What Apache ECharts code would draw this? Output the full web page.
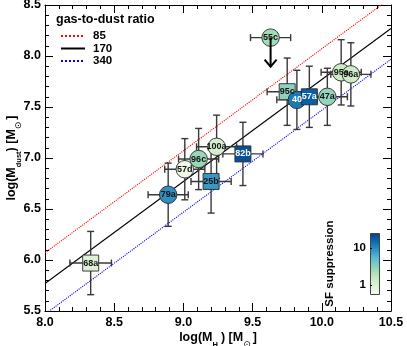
<!DOCTYPE html>
<html><head><meta charset="utf-8">
<script src="https://cdn.jsdelivr.net/npm/echarts@6/dist/echarts.min.js"></script>
<style>html,body{margin:0;padding:0;background:#fff}#c{width:407px;height:346px}</style>
</head><body><div id="c"></div>
<script>
// ---- data ----
const names    = ['68a','79a','57d','96c','25b','100a','82b','55c','95c','40','57a','47a','95a','96a'];
const shapes   = ['s','c','c','c','s','c','s','c','s','c','s','c','c','c'];
const logMH2   = [8.33, 8.89, 9.01, 9.11, 9.20, 9.24, 9.43, 9.63, 9.75, 9.82, 9.91, 10.04, 10.14, 10.21];
const logMdust = [5.97, 6.64, 6.89, 6.99, 6.77, 7.11, 7.04, 8.18, 7.65, 7.57, 7.60, 7.60, 7.84, 7.82];
const errX     = [0.15, 0.145, 0.145, 0.145, 0.145, 0.145, 0.145, 0.145, 0.145, 0.145, 0.145, 0.145, 0.145, 0.145];
const errY     = [0.31, 0.31, 0.30, 0.30, 0.31, 0.31, 0.31, 0, 0.33, 0.29, 0.30, 0.28, 0.32, 0.31];
const upperLim = [false,false,false,false,false,false,false,true,false,false,false,false,false,false];
const sfSupp   = [1.0, 9.5, 0.7, 2.8, 8.5, 1.2, 21, 2.5, 3.2, 12.5, 17.5, 3.0, 1.45, 1.45];
const ratios   = [85, 170, 340];
const ratioLabels = ['85','170','340'];
const xTicks = [8.0, 8.5, 9.0, 9.5, 10.0, 10.5];
const yTicks = [5.5, 6.0, 6.5, 7.0, 7.5, 8.0, 8.5];
const sfRange = [0.57, 25.6];
const cbTicks = [1, 10];

const CMAP = ['#f7fcf0','#e0f3db','#ccebc5','#a8ddb5','#7bccc4','#4eb3d3','#2b8cbe','#0868ac','#084081'];
const FONT = '"Liberation Sans", Arial, Helvetica, sans-serif';
const SYM = '"DejaVu Sans", sans-serif';

const chart = echarts.init(document.getElementById('c'), null, {renderer:'canvas'});

const lineColors = ['#ff0000', '#000000', '#0000ff'];
const lineTypes = ['dotted', 'solid', 'dotted'];
const lineSeries = ratios.map((r, i) => ({
  type: 'line', name: ratioLabels[i], xAxisIndex: 0, yAxisIndex: 0,
  data: [[xTicks[0], xTicks[0] - Math.log10(r)], [xTicks[xTicks.length-1], xTicks[xTicks.length-1] - Math.log10(r)]],
  symbol: 'none', showSymbol: false, clip: true, silent: true, z: 1,
  lineStyle: {color: lineColors[i], type: lineTypes[i], width: 1.1},
  itemStyle: {color: lineColors[i]}
}));

const errData = names.map((n, i) => [logMH2[i], logMdust[i], errX[i], errY[i]]);
const ptData = names.map((n, i) => ({
  name: n,
  value: [logMH2[i], logMdust[i], Math.log10(sfSupp[i])],
  symbol: shapes[i] === 's' ? 'rect' : 'circle',
  symbolSize: shapes[i] === 's' ? 16 : 17.5,
  label: {color: sfSupp[i] >= 11.5 ? '#ffffff' : '#111111'}
}));
const limData = names.map((n, i) => [logMH2[i], logMdust[i]]).filter((d, i) => upperLim[i]);

const CAP = 3.5;
function errRender(params, api) {
  const x = api.value(0), y = api.value(1), ex = api.value(2), ey = api.value(3);
  const c = api.coord([x, y]);
  const xl = api.coord([x - ex, y])[0], xr = api.coord([x + ex, y])[0];
  const st = {stroke: '#383838', lineWidth: 1.4};
  const ch = [
    {type:'line', shape:{x1:xl, y1:c[1], x2:xr, y2:c[1]}, style:st},
    {type:'line', shape:{x1:xl, y1:c[1]-CAP, x2:xl, y2:c[1]+CAP}, style:st},
    {type:'line', shape:{x1:xr, y1:c[1]-CAP, x2:xr, y2:c[1]+CAP}, style:st}
  ];
  if (ey > 0) {
    const yt = api.coord([x, y + ey])[1], yb = api.coord([x, y - ey])[1];
    ch.push({type:'line', shape:{x1:c[0], y1:yt, x2:c[0], y2:yb}, style:st});
    ch.push({type:'line', shape:{x1:c[0]-CAP, y1:yt, x2:c[0]+CAP, y2:yt}, style:st});
    ch.push({type:'line', shape:{x1:c[0]-CAP, y1:yb, x2:c[0]+CAP, y2:yb}, style:st});
  }
  return {type:'group', children: ch};
}
function limRender(params, api) {
  const c = api.coord([api.value(0), api.value(1)]);
  const tip = c[1] + 29;
  const st = {stroke:'#000', lineWidth: 2, fill: null};
  return {type:'group', children:[
    {type:'line', shape:{x1:c[0], y1:c[1], x2:c[0], y2:tip}, style:st},
    {type:'polyline', shape:{points:[[c[0]-6, tip-7],[c[0], tip],[c[0]+6, tip-7]]}, style:st}
  ]};
}

const axisCommon = {
  axisLine: {show: true, onZero: false, lineStyle: {color: '#000', width: 1}},
  axisTick: {show: true, inside: true, length: 8, lineStyle: {color: '#000', width: 1}},
  minorTick: {show: true, splitNumber: 5, length: 4, lineStyle: {color: '#000', width: 1}},
  splitLine: {show: false}
};

const grad = new echarts.graphic.LinearGradient(0, 1, 0, 0,
  CMAP.map((c, i) => ({offset: i / (CMAP.length - 1), color: c})));

const richName = {
  a: {fontFamily: FONT, fontWeight: 'bold', fontSize: 12.5, color: '#000', lineHeight: 16},
  s: {fontFamily: FONT, fontWeight: 'bold', fontSize: 7.5, color: '#000', lineHeight: 16, verticalAlign: 'bottom', padding:[0,0,-3,0]},
  t: {fontFamily: FONT, fontWeight: 'bold', fontSize: 5.5, color: '#000', lineHeight: 16, verticalAlign: 'bottom', padding:[0,0,-5,0]},
  o: {fontFamily: SYM, fontSize: 9, color: '#000', lineHeight: 16, verticalAlign: 'bottom', padding:[0,2,-3,0]}
};

const option = {
  animation: false,
  backgroundColor: '#fff',
  title: {text: 'gas-to-dust ratio', left: 51, top: 8,
    textStyle: {fontFamily: FONT, fontSize: 12.5, fontWeight: 'bold', color: '#000'}},
  legend: {data: ratioLabels, orient: 'vertical', left: 55, top: 25, itemWidth: 24, itemHeight: 10,
    itemGap: 0.5, itemStyle: {opacity: 0},
    textStyle: {fontFamily: FONT, fontSize: 11.5, fontWeight: 'bold', color: '#000', lineHeight: 10, padding: [0,0,0,3]},
    selectedMode: false},
  grid: [
    {left: 45, right: 16, top: 5, bottom: 35, show: false, containLabel: false, outerBoundsMode: 'none'},
    {left: 370, top: 233, width: 9, height: 61, show: false, containLabel: false, outerBoundsMode: 'none'}
  ],
  xAxis: [
    Object.assign({type:'value', gridIndex:0, min: xTicks[0], max: xTicks[xTicks.length-1], interval: 0.5,
      axisLabel: {fontFamily: FONT, fontWeight: 'bold', fontSize: 12.5, color: '#000', margin: 5,
        formatter: v => v.toFixed(1)},
      name: '{a|log(M}{s|H}{t|2}{a|) [M}{o|⊙}{a|]}', nameLocation: 'middle', nameGap: 19, nameMoveOverlap: false,
      nameTextStyle: {rich: richName}
    }, axisCommon),
    Object.assign({type:'value', gridIndex:0, position:'top', min: xTicks[0], max: xTicks[xTicks.length-1], interval: 0.5,
      axisLabel: {show: false}}, axisCommon),
    {type:'value', gridIndex:1, show:false, min:0, max:1}
  ],
  yAxis: [
    Object.assign({type:'value', gridIndex:0, min: yTicks[0], max: yTicks[yTicks.length-1], interval: 0.5,
      axisLabel: {fontFamily: FONT, fontWeight: 'bold', fontSize: 12.5, color: '#000', margin: 4,
        formatter: v => v.toFixed(1)},
      name: '{a|log(M}{s|dust}{a|) [M}{o|⊙}{a|]}', nameLocation: 'middle', nameGap: 25, nameRotate: 90, nameMoveOverlap: false,
      nameTextStyle: {rich: richName}
    }, axisCommon),
    Object.assign({type:'value', gridIndex:0, position:'right', min: yTicks[0], max: yTicks[yTicks.length-1], interval: 0.5,
      axisLabel: {show: false}}, axisCommon),
    {type:'log', gridIndex:1, min: sfRange[0], max: sfRange[1], logBase: 10,
      axisLine: {show: false}, splitLine: {show:false},
      axisTick: {show: true, inside: true, length: 2, lineStyle:{color:'#000'}},
      axisLabel: {fontFamily: FONT, fontWeight: 'bold', fontSize: 11.5, color:'#000', margin: 4,
        showMinLabel: false, showMaxLabel: false,
        formatter: v => cbTicks.some(t => Math.abs(t - v) < 1e-6 * t) ? String(Math.round(v)) : ''},
      name: 'SF suppression', nameLocation: 'middle', nameRotate: 90, nameGap: 34,
      nameTextStyle: {fontFamily: FONT, fontWeight: 'bold', fontSize: 11.5, color:'#000'}}
  ],
  visualMap: {show: false, type: 'continuous', seriesIndex: 4, dimension: 2,
    min: Math.log10(sfRange[0]), max: Math.log10(sfRange[1]), inRange: {color: CMAP}},
  graphic: [
    {type:'rect', left: 370, top: 233, shape:{width: 9, height: 61}, z: 0,
      style:{fill: grad, stroke:'#444', lineWidth: 1}}
  ],
  series: lineSeries.concat([
    {type:'custom', xAxisIndex:0, yAxisIndex:0, data: errData, renderItem: errRender, z: 3, silent: true},
    {type:'scatter', xAxisIndex:0, yAxisIndex:0, data: ptData, z: 4,
      itemStyle: {borderColor: '#2a2a2a', borderWidth: 0.9, opacity: 1},
      label: {show: true, position: 'inside', formatter: '{b}', fontFamily: FONT, fontWeight: 'bold', fontSize: 9}},
    {type:'custom', xAxisIndex:0, yAxisIndex:0, data: limData, renderItem: limRender, z: 5, silent: true}
  ])
};
chart.setOption(option);
</script></body></html>
